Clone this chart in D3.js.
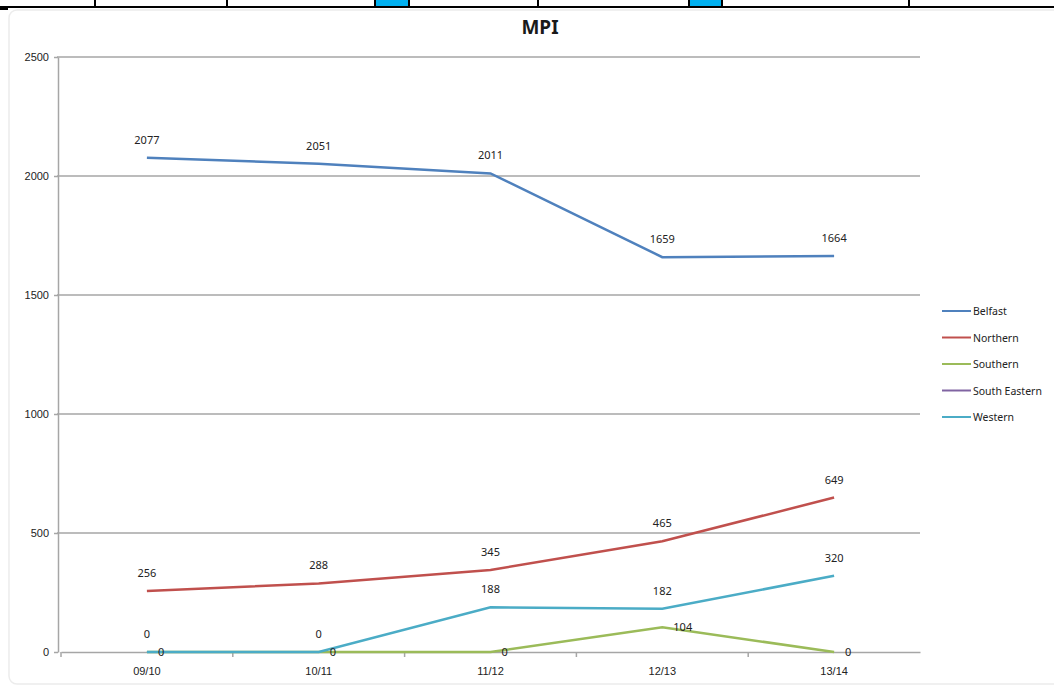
<!DOCTYPE html>
<html>
<head>
<meta charset="utf-8">
<script src="https://cdn.jsdelivr.net/npm/d3@7"></script>
<style>
  body { margin: 0; background: #fff; }
  svg { display: block; font-family: "Noto Sans", "Open Sans", sans-serif; }
</style>
</head>
<body>
<div id="chart"></div>
<script>
// chart data
const years = ["09/10", "10/11", "11/12", "12/13", "13/14"];
const seriesNames = ["Belfast", "Northern", "Southern", "South Eastern", "Western"];
const belfast = [2077, 2051, 2011, 1659, 1664];
const northern = [256, 288, 345, 465, 649];
const southern = [0, 0, 0, 104, 0];
const southEastern = [null, null, null, null, null];
const western = [0, 0, 188, 182, 320];
const yTicks = [0, 500, 1000, 1500, 2000, 2500];

const colors = ["#4f81bd", "#c0504d", "#9bbb59", "#8064a2", "#4bacc6"];
// where each series puts its value labels
const labelPos = ["top", "top", "right", "top", "top"];

let width = 1054, height = 687;
let margin = {left: 61, right: 134, top: 57, bottom: 35};

let svg = d3.select("#chart").append("svg")
  .attr("width", width)
  .attr("height", height);

// strip of the table row above the chart
let strip = svg.append("g");
strip.append("rect").attr("x", 376).attr("y", 0).attr("width", 33).attr("height", 7).attr("fill", "#00b0f0");
strip.append("rect").attr("x", 689).attr("y", 0).attr("width", 33).attr("height", 7).attr("fill", "#00b0f0");
strip.append("line").attr("x1", 0).attr("x2", width).attr("y1", 7).attr("y2", 7)
  .attr("stroke", "#000").attr("stroke-width", 2);
[95, 227, 375, 409, 538, 689, 722, 909].forEach(x => {
  strip.append("line").attr("x1", x).attr("x2", x).attr("y1", 0).attr("y2", 7)
    .attr("stroke", "#000").attr("stroke-width", 2);
});
strip.append("line").attr("x1", 0).attr("x2", 8).attr("y1", 9).attr("y2", 9)
  .attr("stroke", "#000").attr("stroke-width", 2);

// chart frame
svg.append("rect")
  .attr("x", 9).attr("y", 10).attr("width", width + 20).attr("height", 674)
  .attr("rx", 8)
  .attr("fill", "none").attr("stroke", "#ececec").attr("stroke-width", 1.5);

let x = d3.scaleBand().domain(years).range([margin.left, width - margin.right]);
let y = d3.scaleLinear().domain([0, 2500]).range([height - margin.bottom, margin.top]);
let cx = d => x(d) + x.bandwidth() / 2;

// gridlines
svg.append("g")
  .selectAll("line")
  .data(yTicks.filter(t => t > 0))
  .enter()
  .append("line")
  .attr("x1", margin.left - 4)
  .attr("x2", width - margin.right)
  .attr("y1", d => y(d))
  .attr("y2", d => y(d))
  .attr("stroke", "#a6a6a6")
  .attr("stroke-width", 1.5);

// y axis
let yAxis = svg.append("g")
  .attr("transform", `translate(${margin.left - 3},0)`)
  .call(d3.axisLeft(y).tickValues(yTicks).tickFormat(d3.format("d")).tickSize(4).tickSizeOuter(0));
yAxis.select(".domain").attr("stroke", "#a6a6a6").attr("stroke-width", 1.5);
yAxis.selectAll(".tick line").attr("stroke", "#a6a6a6").attr("stroke-width", 1.5);
yAxis.selectAll(".tick text").attr("font-size", 11).attr("fill", "#222").attr("x", -9);

// x axis
let xAxis = svg.append("g")
  .attr("transform", `translate(0,${y(0)})`)
  .call(d3.axisBottom(x).tickSize(0).tickSizeOuter(0));
xAxis.select(".domain").attr("stroke", "#a6a6a6").attr("stroke-width", 1.5);
xAxis.selectAll(".tick text").attr("font-size", 11).attr("fill", "#222").attr("dy", "1.85em");
xAxis.append("g")
  .selectAll("line")
  .data(years)
  .enter()
  .append("line")
  .attr("x1", d => x(d)).attr("x2", d => x(d))
  .attr("y1", 0).attr("y2", 5)
  .attr("stroke", "#a6a6a6").attr("stroke-width", 1.5);

// series
const allSeries = [belfast, northern, southern, southEastern, western];
let line = d3.line()
  .defined(d => d.v !== null)
  .x(d => cx(d.year))
  .y(d => y(d.v));

allSeries.forEach((vals, i) => {
  let pts = years.map((yr, j) => ({year: yr, v: vals[j]}));
  svg.append("path")
    .datum(pts)
    .attr("fill", "none")
    .attr("stroke", colors[i])
    .attr("stroke-width", 2.5)
    .attr("d", line);
});

// value labels
allSeries.forEach((vals, i) => {
  let pts = years.map((yr, j) => ({year: yr, v: vals[j]})).filter(d => d.v !== null);
  svg.append("g")
    .selectAll("text")
    .data(pts)
    .enter()
    .append("text")
    .attr("x", d => labelPos[i] === "right" ? cx(d.year) + 11 : cx(d.year))
    .attr("y", d => labelPos[i] === "right" ? y(d.v) + 4 : y(d.v) - 14)
    .attr("text-anchor", labelPos[i] === "right" ? "start" : "middle")
    .attr("font-size", 11)
    .attr("fill", "#222")
    .text(d => d.v);
});

// title
svg.append("text")
  .attr("x", 540).attr("y", 34)
  .attr("text-anchor", "middle")
  .attr("font-size", 19)
  .attr("font-weight", "bold")
  .attr("fill", "#1a1a1a")
  .text("MPI");

// legend
let legend = svg.append("g")
  .selectAll("g")
  .data(seriesNames)
  .enter()
  .append("g")
  .attr("transform", (d, i) => `translate(942,${311 + i * 26.5})`);
legend.append("line")
  .attr("x1", 0).attr("x2", 29)
  .attr("stroke", (d, i) => colors[i])
  .attr("stroke-width", 2);
legend.append("text")
  .attr("x", 31).attr("y", 4)
  .attr("font-size", 10.5)
  .attr("fill", "#222")
  .text(d => d);
</script>
</body>
</html>
